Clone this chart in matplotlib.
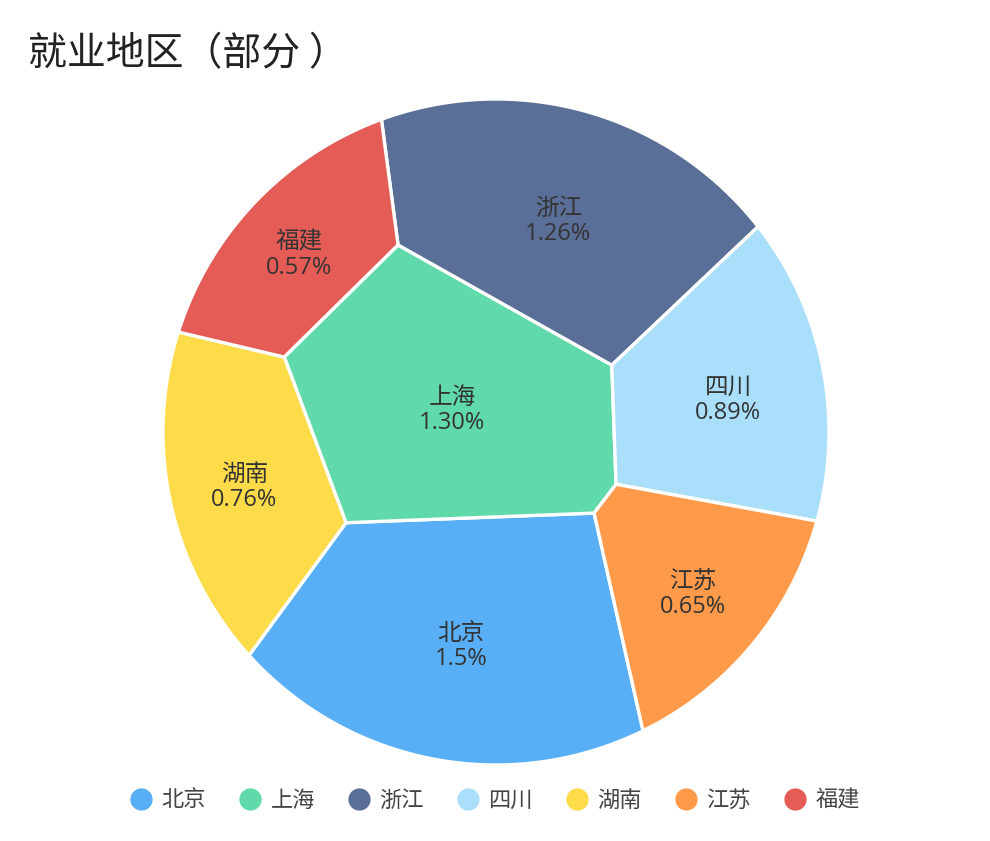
import numpy as np
import matplotlib
matplotlib.use('Agg')
import matplotlib.pyplot as plt
from matplotlib.lines import Line2D

plt.rcParams['font.family'] = ['Noto Sans CJK SC', 'DejaVu Sans']

names = ['北京', '上海', '浙江', '四川', '湖南', '江苏', '福建']
values = [1.5, 1.30, 1.26, 0.89, 0.76, 0.65, 0.57]
value_labels = ['1.5%', '1.30%', '1.26%', '0.89%', '0.76%', '0.65%', '0.57%']
colors = ['#58aff6', '#60daab', '#5a6f98', '#aadffb', '#fedb48', '#fe9a4a', '#e45c55']

# starting sites of the power diagram (unit circle coords), roughly where each cell sits
seeds = np.array([(-0.11, -0.64), (-0.135, 0.066), (0.183, 0.637), (0.694, 0.096),
                  (-0.76, -0.168), (0.589, -0.49), (-0.595, 0.53)])


def clip(poly, a, b):
    # keep the part of poly with a.p <= b
    if len(poly) == 0:
        return poly
    f = poly @ a - b
    nxt = np.roll(poly, -1, axis=0)
    fn = np.roll(f, -1)
    keep = f <= 0
    cross = f * fn < 0
    t = np.where(cross, f / np.where(cross, f - fn, 1), 0)
    inter = poly + t[:, None] * (nxt - poly)
    pts = np.stack([poly, inter], axis=1).reshape(-1, 2)
    mask = np.stack([keep, cross], axis=1).reshape(-1)
    return pts[mask]


def area_centroid(poly):
    if len(poly) < 3:
        return 0.0, np.zeros(2)
    x, y = poly[:, 0], poly[:, 1]
    x1, y1 = np.roll(x, -1), np.roll(y, -1)
    c = x * y1 - x1 * y
    a = c.sum() / 2
    if abs(a) < 1e-12:
        return 0.0, poly.mean(axis=0)
    cx = ((x + x1) * c).sum() / (6 * a)
    cy = ((y + y1) * c).sum() / (6 * a)
    return a, np.array([cx, cy])


def power_cells(sites, w, circle):
    cells = []
    for i in range(len(sites)):
        poly = circle.copy()
        for j in range(len(sites)):
            if j == i:
                continue
            a = 2 * (sites[j] - sites[i])
            b = sites[j] @ sites[j] - sites[i] @ sites[i] - w[j] + w[i]
            poly = clip(poly, a, b)
        cells.append(poly)
    return cells


def cell_areas(sites, w, circle):
    return np.array([area_centroid(c)[0] for c in power_cells(sites, w, circle)])


def solve_weights(sites, w, circle, target, steps=25):
    n = len(w)
    for _ in range(steps):
        A = cell_areas(sites, w, circle)
        err = target - A
        if np.abs(err).max() < 1e-6:
            break
        eps = 1e-4
        J = np.zeros((n, n))
        for k in range(n):
            dw = w.copy()
            dw[k] += eps
            J[:, k] = (cell_areas(sites, dw, circle) - A) / eps
        step = np.linalg.lstsq(J, err, rcond=None)[0]
        if not np.all(np.isfinite(step)):
            step = 0.5 * err
        w = w + 0.7 * step
    return w


ang = np.linspace(0, 2 * np.pi, 720, endpoint=False)
circle = np.column_stack([np.cos(ang), np.sin(ang)])
total, _ = area_centroid(circle)
vals = np.array(values)
target = vals / vals.sum() * total

sites = seeds.copy()
w = np.zeros(len(vals))
for outer in range(12):
    w = solve_weights(sites, w, circle, target)
    cells = power_cells(sites, w, circle)
    sites = np.array([area_centroid(c)[1] for c in cells])
w = solve_weights(sites, w, circle, target, steps=40)
cells = power_cells(sites, w, circle)

fig = plt.figure(figsize=(9.9, 8.41), dpi=100)
r_px = 333
half = 350
cx, cy = 496, 432
ax = fig.add_axes([(cx - half) / 990, (841 - cy - half) / 841, 2 * half / 990, 2 * half / 841])
lim = half / r_px
ax.set_xlim(-lim, lim)
ax.set_ylim(-lim, lim)
ax.set_aspect('equal')
ax.axis('off')

for poly, col, name, lab in zip(cells, colors, names, value_labels):
    ax.fill(poly[:, 0], poly[:, 1], facecolor=col, edgecolor='white', linewidth=2.4)
    _, c = area_centroid(poly)
    ax.text(c[0], c[1] - 0.02, name + '\n' + lab, ha='center', va='center',
            fontsize=17, color='#333333', linespacing=1.05,
            family=['Open Sans', 'Noto Sans CJK SC'])

fig.text(28 / 990, 1 - 54 / 841, '就业地区（部分 ）', fontsize=28, color='#222222',
         ha='left', va='center')

handles = [Line2D([], [], marker='o', linestyle='none', markersize=15,
                  markerfacecolor=c, markeredgecolor=c) for c in colors]
fig.legend(handles, names, loc='center', bbox_to_anchor=(0.5, 1 - 800 / 841), ncol=7,
           frameon=False, fontsize=16, handletextpad=0.4, columnspacing=1.5,
           handlelength=1.0, labelcolor='#444444')

fig.savefig('out.png', dpi=100, facecolor='white')
